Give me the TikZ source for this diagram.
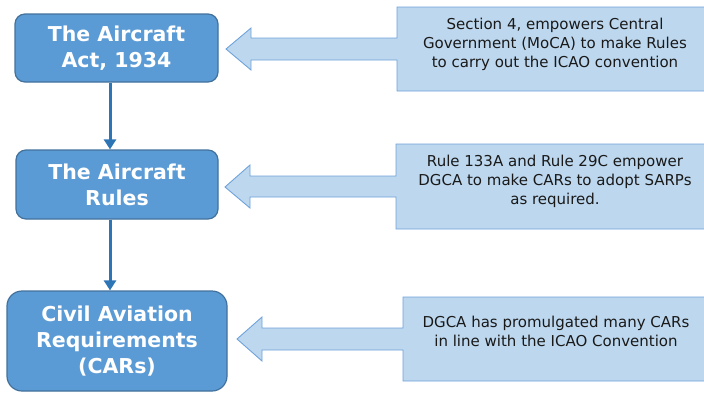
\documentclass[tikz,border=0pt]{standalone}
\usepackage{fontspec}
\setmainfont{DejaVu Sans}
\usetikzlibrary{arrows.meta}
\definecolor{boxfill}{HTML}{5B9BD5}
\definecolor{boxline}{HTML}{41719C}
\definecolor{callfill}{HTML}{BDD7EE}
\definecolor{callline}{HTML}{6FA3DA}
\definecolor{linkcol}{HTML}{2E75B6}
\begin{document}
\begin{tikzpicture}[x=1pt,y=-1pt,
  mainbox/.style={draw=boxline, line width=1.2pt, fill=boxfill, rounded corners=10pt, text=white,
    font=\bfseries\fontsize{20.5}{26}\selectfont, align=center, inner sep=0pt},
  callshape/.style={draw=callline, line width=0.9pt, fill=callfill},
  calltext/.style={text=black!90, font=\fontsize{15}{19}\selectfont, align=center, inner sep=0pt},
  link/.style={draw=linkcol, line width=3pt, -{Triangle[length=10pt,width=12pt]}}]
\useasboundingbox (0,0) rectangle (704,392);
\clip (0,0) rectangle (704,392);

% main boxes
\node[mainbox, minimum width=203pt, minimum height=68pt] (b1) at (116.5,48) {The Aircraft\\Act, 1934};
\node[mainbox, minimum width=202pt, minimum height=69pt] (b2) at (117,184.5) {The Aircraft\\Rules};
\node[mainbox, rounded corners=15pt, minimum width=220pt, minimum height=100pt] (b3) at (117,341) {Civil Aviation\\Requirements\\(CARs)};

% connectors
\coordinate (lx) at (110,0);
\draw[link] (b1.south -| lx) -- (b2.north -| lx);
\draw[link] (b2.south -| lx) -- (b3.north -| lx);

% callouts
\draw[callshape] (397,7) -- (714,7) -- (714,91) -- (397,91) -- (397,60) -- (251,60) -- (251,70)
  -- (226,49) -- (251,28) -- (251,38) -- (397,38) -- cycle;
\node[calltext] (c1) at (555,44) {Section 4, empowers Central\\Government (MoCA) to make Rules\\to carry out the ICAO convention};

\draw[callshape] (396,144) -- (714,144) -- (714,229) -- (396,229) -- (396,197) -- (250,197) -- (250,208)
  -- (225,187) -- (250,165) -- (250,176) -- (396,176) -- cycle;
\node[calltext] (c2) at (555,181) {Rule 133A and Rule 29C empower\\DGCA to make CARs to adopt SARPs\\as required.};

\draw[callshape] (403,297) -- (714,297) -- (714,381) -- (403,381) -- (403,350) -- (262,350) -- (262,361)
  -- (237,339) -- (262,317) -- (262,328) -- (403,328) -- cycle;
\node[calltext] (c3) at (556,331) {DGCA has promulgated many CARs\\in line with the ICAO Convention};
\end{tikzpicture}
\end{document}
